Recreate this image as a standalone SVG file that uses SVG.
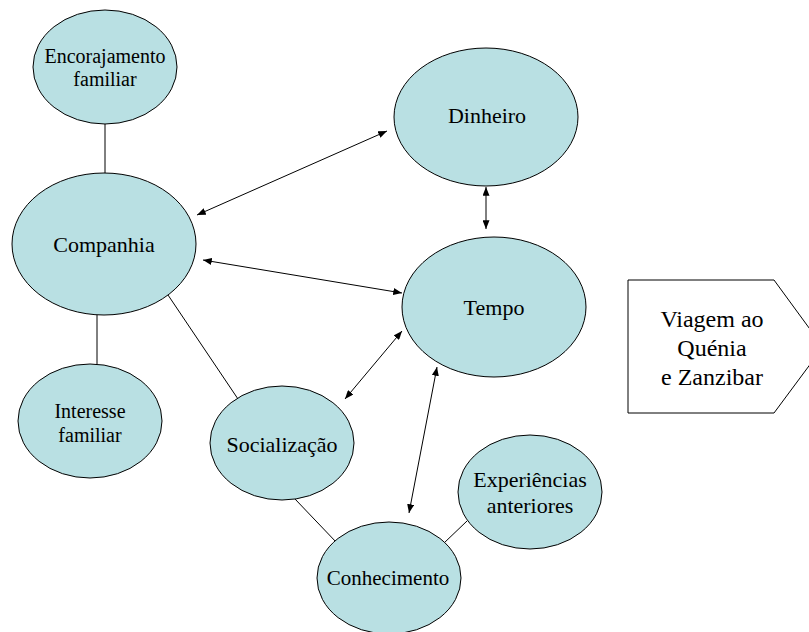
<svg xmlns="http://www.w3.org/2000/svg" width="809" height="632" viewBox="0 0 809 632">
<style>
.n{fill:#B9E0E3;stroke:#000;stroke-width:1}
text{font-family:'Times New Roman',Times,'Liberation Serif',Tinos,'DejaVu Serif','Noto Serif',FreeSerif,serif;font-size:22px;fill:#000;text-anchor:middle}
.s{font-size:20px}
.c{stroke:#000;stroke-width:1;fill:none}
.a{marker-start:url(#ah);marker-end:url(#ah)}
</style>
<defs>
<marker id="ah" viewBox="0 0 10 8" refX="10" refY="4" markerWidth="9" markerHeight="7" markerUnits="userSpaceOnUse" orient="auto-start-reverse">
<path d="M0,0 L10,4 L0,8 Z" fill="#000"/>
</marker>
</defs>
<rect width="809" height="632" fill="#fff"/>
<g id="connectors">
<line class="c" x1="105" y1="124" x2="105" y2="173"/>
<line class="c" x1="97" y1="315" x2="97" y2="365"/>
<line class="c" x1="168" y1="295" x2="238" y2="399"/>
<line class="c" x1="295" y1="499" x2="337" y2="543"/>
<line class="c" x1="444" y1="543" x2="467" y2="521"/>
<line class="c a" x1="197" y1="215" x2="387" y2="131"/>
<line class="c a" x1="203" y1="260" x2="402" y2="293"/>
<line class="c a" x1="486" y1="187" x2="486" y2="229"/>
<line class="c a" x1="345" y1="399" x2="402" y2="331"/>
<line class="c a" x1="437" y1="367" x2="409" y2="513"/>
</g>
<g id="encorajamento">
<ellipse class="n" cx="105" cy="67" rx="72" ry="57"/>
<text class="s" x="105" y="63">Encorajamento</text>
<text class="s" x="105" y="86">familiar</text>
</g>
<g id="companhia">
<ellipse class="n" cx="104" cy="244" rx="92" ry="71"/>
<text x="104" y="252">Companhia</text>
</g>
<g id="interesse">
<ellipse class="n" cx="90" cy="421" rx="72" ry="57"/>
<text class="s" x="90" y="418">Interesse</text>
<text class="s" x="90" y="442">familiar</text>
</g>
<g id="dinheiro">
<ellipse class="n" cx="486" cy="117" rx="92" ry="69"/>
<text x="487" y="123">Dinheiro</text>
</g>
<g id="tempo">
<ellipse class="n" cx="494" cy="307" rx="92" ry="70"/>
<text x="494" y="315">Tempo</text>
</g>
<g id="socializacao">
<ellipse class="n" cx="282" cy="443" rx="72" ry="57"/>
<text x="282" y="452">Socialização</text>
</g>
<g id="experiencias">
<ellipse class="n" cx="530" cy="492" rx="72" ry="57"/>
<text x="530" y="487">Experiências</text>
<text x="530" y="513">anteriores</text>
</g>
<g id="conhecimento">
<ellipse class="n" cx="389" cy="578" rx="72" ry="56"/>
<text x="388" y="585" style="font-size:21px">Conhecimento</text>
</g>
<g id="viagem">
<polygon points="628,280 774,280 823,347 774,413 628,413" fill="#fff" stroke="#000" stroke-width="1"/>
<text x="712" y="327" style="font-size:24px">Viagem ao</text>
<text x="712" y="356" style="font-size:24px">Quénia</text>
<text x="712" y="385" style="font-size:24px">e Zanzibar</text>
</g>
</svg>
